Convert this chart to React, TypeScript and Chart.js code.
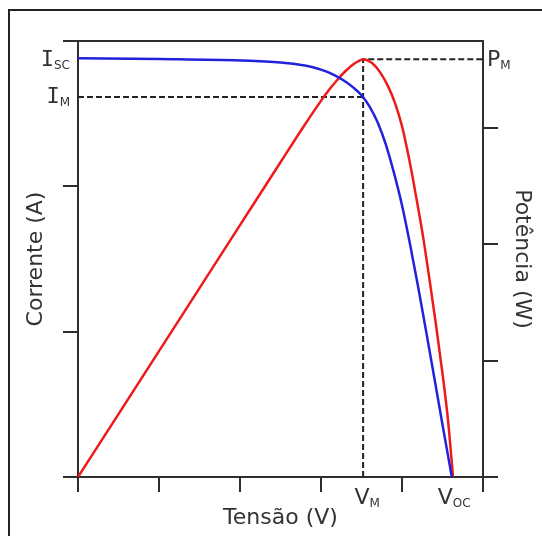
import React, { useEffect, useRef } from "react";
import { Chart, registerables } from "chart.js";

Chart.register(...registerables);

// ---- data ----
const ivVoltage = [0, 1, 2, 2.5, 2.8, 2.9, 3.0, 3.1, 3.2, 3.3, 3.4, 3.5, 3.6, 3.7, 3.8, 3.9, 4.0, 4.1, 4.2, 4.3, 4.4, 4.5, 4.6, 4.615];
const ivCurrent = [2.882, 2.876, 2.866, 2.852, 2.831, 2.819, 2.803, 2.782, 2.755, 2.721, 2.679, 2.627, 2.549, 2.439, 2.289, 2.094, 1.87, 1.6, 1.305, 0.995, 0.68, 0.36, 0.048, 0];

const pvVoltage = [0, 1, 2, 2.5, 2.8, 3.0, 3.1, 3.2, 3.3, 3.4, 3.46, 3.519, 3.63, 3.728, 3.827, 3.914, 4.0, 4.086, 4.173, 4.259, 4.346, 4.42, 4.494, 4.568, 4.63];
const pvPower = [0, 1.083, 2.166, 2.707, 3.03, 3.235, 3.33, 3.415, 3.49, 3.55, 3.576, 3.594, 3.56, 3.482, 3.362, 3.216, 3.018, 2.743, 2.416, 2.072, 1.668, 1.307, 0.92, 0.49, 0];

const V_M = 3.52;
const V_OC = 4.62;
const I_SC = 2.882;
const I_M = 2.615;
const P_M = 3.594;

const xRange = [0, 5];
const currentRange = [0, 3];
const powerRange = [0, 3.75];

const xTitle = "Tensão (V)";
const leftTitle = "Corrente (A)";
const rightTitle = "Potência (W)";

// ---- styles ----
const AXIS = "#2e2e2e";
const TEXT = "#333333";
const BLUE = "#2222dd";
const RED = "#ee1a1a";
const FONT = "'DejaVu Sans', Verdana, sans-serif";

function drawSubLabel(ctx: CanvasRenderingContext2D, main: string, sub: string, x: number, baseline: number, align: "left" | "right" | "center", mainFont: string) {
  const subFont = `12px ${FONT}`;
  ctx.font = mainFont;
  const mw = ctx.measureText(main).width;
  ctx.font = subFont;
  const sw = ctx.measureText(sub).width;
  const total = mw + sw;
  let start = x;
  if (align === "right") start = x - total;
  else if (align === "center") start = x - total / 2;
  ctx.textAlign = "left";
  ctx.textBaseline = "alphabetic";
  ctx.fillStyle = TEXT;
  ctx.font = mainFont;
  ctx.fillText(main, start, baseline);
  ctx.font = subFont;
  ctx.fillText(sub, start + mw, baseline + 3);
}

const pvPlugin = {
  id: "pvAnnotations",
  beforeDatasetsDraw(chart: any) {
    const { ctx, chartArea, scales } = chart;
    const x = scales.x, yI = scales.y, yP = scales.y1;
    ctx.save();
    ctx.strokeStyle = "#222";
    ctx.lineWidth = 2;
    ctx.setLineDash([6, 3]);
    const xm = x.getPixelForValue(V_M);
    const yim = yI.getPixelForValue(I_M);
    const ypm = yP.getPixelForValue(P_M);
    ctx.beginPath();
    ctx.moveTo(chartArea.left, yim);
    ctx.lineTo(xm, yim);
    ctx.moveTo(xm, chartArea.bottom);
    ctx.lineTo(xm, ypm);
    ctx.lineTo(chartArea.right, ypm);
    ctx.stroke();
    ctx.restore();
  },
  afterDraw(chart: any) {
    const { ctx, chartArea, scales } = chart;
    const x = scales.x, yI = scales.y, yP = scales.y1;
    ctx.save();
    ctx.strokeStyle = AXIS;
    ctx.lineWidth = 2;
    ctx.beginPath();
    ctx.moveTo(chartArea.left - 1, chartArea.top);
    ctx.lineTo(chartArea.right + 1, chartArea.top);
    ctx.stroke();

    const mainFont = `22px ${FONT}`;
    const iFont = `22px 'DejaVu Sans Mono', monospace`;
    const lx = chartArea.left - 8;
    drawSubLabel(ctx, "I", "SC", lx, yI.getPixelForValue(I_SC) + 8, "right", iFont);
    drawSubLabel(ctx, "I", "M", lx, yI.getPixelForValue(I_M) + 6, "right", iFont);
    drawSubLabel(ctx, "P", "M", chartArea.right + 4, yP.getPixelForValue(P_M) + 7, "left", mainFont);
    const vb = chartArea.bottom + 27;
    drawSubLabel(ctx, "V", "M", x.getPixelForValue(V_M) + 4, vb, "center", mainFont);
    drawSubLabel(ctx, "V", "OC", x.getPixelForValue(V_OC) + 2, vb, "center", mainFont);
    ctx.restore();
  },
};

function axisCommon(min: number, max: number, width: number | null, height: number | null) {
  return {
    type: "linear" as const,
    min,
    max,
    ticks: { display: false, stepSize: 1, includeBounds: false },
    grid: { display: true, drawOnChartArea: false, drawTicks: true, tickLength: 15, color: AXIS, lineWidth: 2 },
    border: { display: true, color: AXIS, width: 2 },
    afterFit: (s: any) => {
      if (width !== null) s.width = width;
      if (height !== null) s.height = height;
    },
  };
}

export default function App() {
  const ref = useRef<HTMLCanvasElement | null>(null);
  useEffect(() => {
    if (!ref.current) return;
    const chart = new Chart(ref.current, {
      type: "line",
      data: {
        datasets: [
          {
            label: "Corrente",
            data: ivVoltage.map((v, i) => ({ x: v, y: ivCurrent[i] })),
            borderColor: BLUE,
            borderWidth: 2.5,
            pointRadius: 0,
            cubicInterpolationMode: "monotone",
            yAxisID: "y",
            fill: false,
          },
          {
            label: "Potência",
            data: pvVoltage.map((v, i) => ({ x: v, y: pvPower[i] })),
            borderColor: RED,
            borderWidth: 2.5,
            pointRadius: 0,
            cubicInterpolationMode: "monotone",
            yAxisID: "y1",
            fill: false,
          },
        ],
      },
      options: {
        responsive: false,
        animation: false,
        layout: { padding: { top: 41, left: 0, right: 0, bottom: 0 } },
        plugins: { legend: { display: false }, tooltip: { enabled: false } },
        scales: {
          x: {
            ...axisCommon(xRange[0], xRange[1], null, 59),
            position: "bottom",
            title: { display: true, text: xTitle, color: TEXT, font: { family: FONT, size: 22 }, padding: { top: 0, bottom: 5 } },
          },
          y: {
            ...axisCommon(currentRange[0], currentRange[1], 78, null),
            position: "left",
            title: { display: true, text: leftTitle, color: TEXT, font: { family: FONT, size: 22 }, padding: { top: 23, bottom: 0 } },
          },
          y1: {
            ...axisCommon(powerRange[0], powerRange[1], 59, null),
            position: "right",
            title: { display: true, text: rightTitle, color: TEXT, font: { family: FONT, size: 22 }, padding: { top: 7, bottom: 0 } },
          },
        },
      } as any,
      plugins: [pvPlugin],
    });
    return () => chart.destroy();
  }, []);

  return (
    <div style={{ position: "fixed", left: 0, top: 0, width: 542, height: 536, overflow: "hidden", background: "#fff" }}>
      <div style={{ position: "absolute", left: 8, top: 9, width: 700, height: 700, borderLeft: "2px solid #222", borderTop: "2px solid #222" }} />
      <canvas ref={ref} width={542} height={536} style={{ position: "absolute", left: 0, top: 0, display: "block" }} />
    </div>
  );
}
